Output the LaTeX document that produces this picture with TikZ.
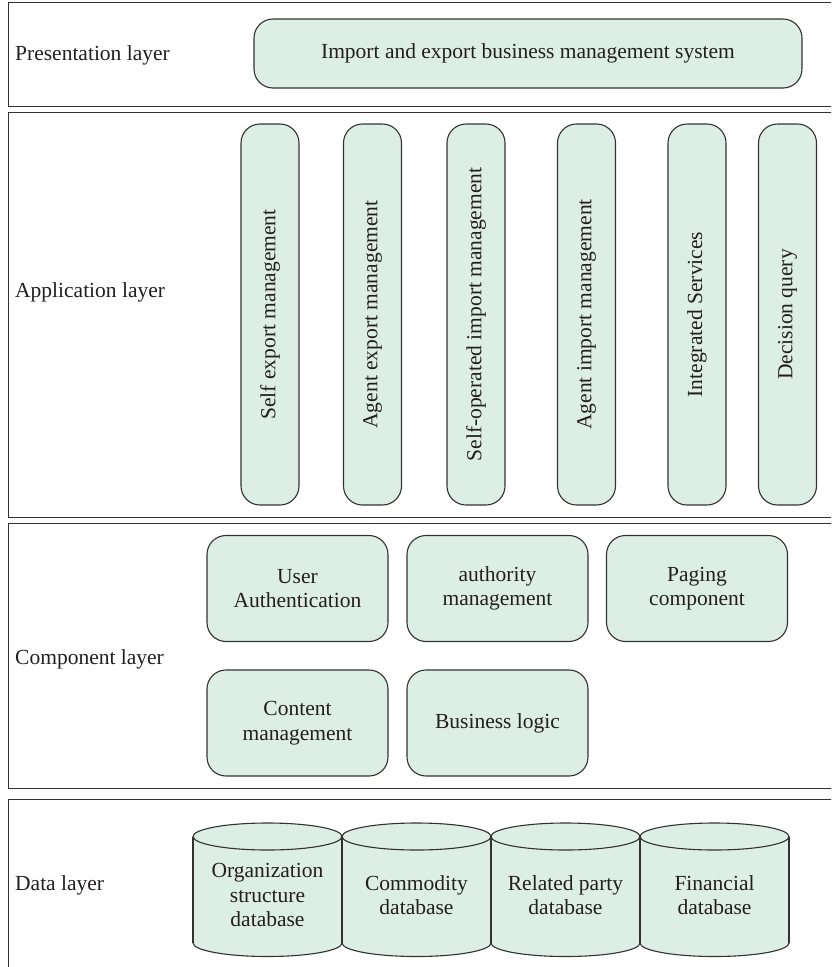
\documentclass[tikz,border=0pt]{standalone}
\usepackage{fontspec}
\setmainfont{Liberation Serif}
\definecolor{mint}{RGB}{221,238,230}
\definecolor{edge}{RGB}{50,50,50}
\definecolor{ink}{RGB}{35,31,32}
\begin{document}
\begin{tikzpicture}[x=1pt,y=-1pt,
  every node/.style={text=ink, font=\fontsize{21.5}{24.5}\selectfont},
  layerbox/.style={draw=edge, line width=1.3pt, anchor=north west, inner sep=0pt},
  box/.style={draw=edge, fill=mint, line width=1.1pt, rounded corners=19pt, align=center, inner sep=0pt},
  pill/.style={box, rotate=90, minimum width=381pt, minimum height=58pt},
  comp/.style={box, minimum width=181pt, minimum height=106pt},
  lbl/.style={anchor=west, inner sep=0pt},
  dbtext/.style={align=center, inner sep=0pt}
]
\useasboundingbox (0,0) rectangle (831,967);
\clip (0,0) rectangle (831,967);
% layers
\node[layerbox, minimum width=840pt, minimum height=104pt] (Lpres) at (8,2) {};
\node[layerbox, minimum width=840pt, minimum height=405pt] (Lapp) at (8,112) {};
\node[layerbox, minimum width=840pt, minimum height=265pt] (Lcomp) at (8,523) {};
\node[layerbox, minimum width=840pt, minimum height=180pt] (Ldata) at (8,799) {};
% labels
\node[lbl] (tpres) at (15,55) {Presentation layer};
\node[lbl] (tapp) at (15,292) {Application layer};
\node[lbl] (tcomp) at (15,659) {Component layer};
\node[lbl] (tdata) at (15,885) {Data layer};
% presentation
\node[box, minimum width=548pt, minimum height=69pt] (sys) at (528,53.5) {Import and export business management system};
% application pills
\node[pill] (p1) at (270,314.5) {Self export management};
\node[pill] (p2) at (372.5,314.5) {Agent export management};
\node[pill] (p3) at (476,314.5) {Self-operated import management};
\node[pill] (p4) at (586.5,314.5) {Agent import management};
\node[pill] (p5) at (697,314.5) {Integrated Services};
\node[pill] (p6) at (787.5,314.5) {Decision query};
% components
\node[comp] (c1) at (297.5,588.5) {User\\Authentication};
\node[comp] (c2) at (497.5,588.5) {authority\\management};
\node[comp] (c3) at (697,588.5) {Paging\\component};
\node[comp] (c4) at (297.5,723) {Content\\management};
\node[comp] (c5) at (497.5,723) {Business logic};
% databases
\foreach \i in {0,1,2,3}{
  \pgfmathsetmacro{\xa}{193+149*\i}
  \pgfmathsetmacro{\xb}{\xa+149}
  \pgfmathsetmacro{\xc}{\xa+74.5}
  \fill[mint, draw=edge, line width=1.1pt] (\xc,943) ellipse (74.5pt and 13.5pt);
  \fill[mint] (\xa,836.5) rectangle (\xb,943);
  \draw[edge, line width=1.1pt] (\xa,836.5) -- (\xa,943) (\xb,836.5) -- (\xb,943);
  \filldraw[fill=mint, draw=edge, line width=1.1pt] (\xc,836.5) ellipse (74.5pt and 13.5pt);
}
\node[dbtext] (db1) at (267.5,895) {Organization\\structure\\database};
\node[dbtext] (db2) at (416.5,895) {Commodity\\database};
\node[dbtext] (db3) at (565.5,895) {Related party\\database};
\node[dbtext] (db4) at (714.5,895) {Financial\\database};
\end{tikzpicture}
\end{document}
